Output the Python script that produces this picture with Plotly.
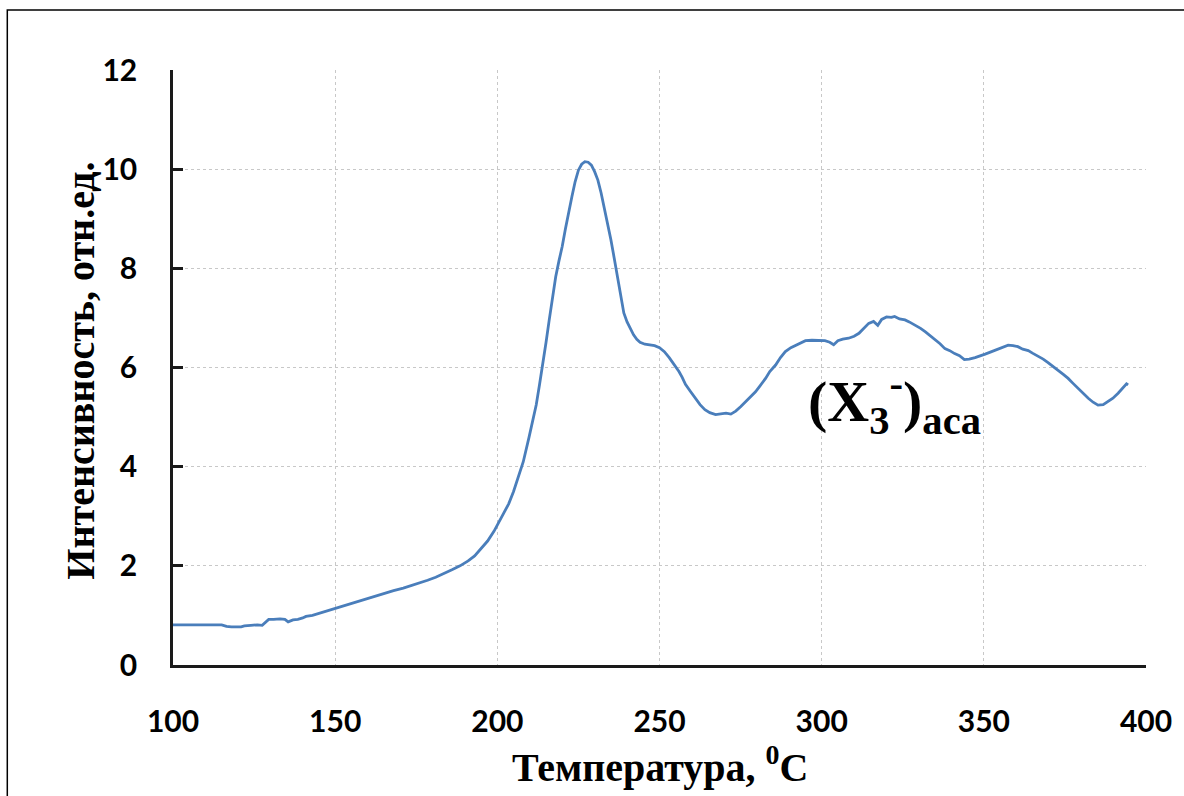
import plotly.graph_objects as go

# Temperature (°C) and intensity (arb. units) of the glow curve
temperature = [
    100, 105, 110, 115, 116.5, 118, 121, 122, 124, 126, 127.5, 128.5, 129.5, 131, 133,
    134.5, 135.5, 137, 138.5, 140, 141, 143, 145, 147.5, 150, 153, 156.5, 160, 163,
    165.7, 168, 171, 173.5, 176, 178.5, 181, 183.5, 186, 188.5, 191, 193, 195, 197,
    199, 200, 202, 203.5, 205, 206.5, 208, 209.8, 211, 212, 213, 214, 215, 216, 217,
    218, 219, 220, 221, 222, 223, 224, 225, 226, 227, 228, 229, 230, 231, 232, 233,
    234, 235, 236, 237, 238, 239, 240, 241, 242, 243, 244, 245.5, 247, 248.5, 250,
    251.5, 253, 254.5, 256, 257, 258, 259.5, 261, 262.5, 264, 265.5, 267.3, 269,
    270.5, 272, 273.5, 275, 276.5, 278, 279.6, 281, 282.7, 284, 285.8, 287.3, 288.8,
    290.5, 292, 293.5, 295, 297, 299, 301, 302.5, 303.7, 305, 306.5, 308.3, 310,
    311.5, 313, 314.5, 316, 317.3, 318.5, 320, 321.5, 322.5, 324, 325.7, 327, 328.8,
    330.5, 332, 333.5, 335, 336.5, 338, 339.5, 341, 342.5, 344, 345.5, 347.3, 349,
    350.4, 352, 353.5, 355, 356.5, 357.5, 359, 360.5, 362, 363.7, 365, 366.8, 368.3,
    369.8, 371.3, 372.9, 374.5, 376, 377.5, 379, 380.5, 382.2, 383.7, 385.2, 386.8,
    388.3, 389.8, 391.4, 392.8, 394, 394.5,
]
intensity = [
    0.81, 0.81, 0.81, 0.81, 0.78, 0.77, 0.77, 0.79, 0.80, 0.81, 0.80, 0.86, 0.92, 0.92, 0.93,
    0.92, 0.87, 0.91, 0.92, 0.95, 0.98, 1.00, 1.04, 1.09, 1.15, 1.20, 1.28, 1.34, 1.41,
    1.46, 1.50, 1.55, 1.60, 1.65, 1.71, 1.77, 1.84, 1.92, 2.00, 2.10, 2.20, 2.35, 2.50,
    2.70, 2.82, 3.05, 3.25, 3.50, 3.80, 4.10, 4.60, 4.95, 5.25, 5.65, 6.05, 6.50, 6.96, 7.40,
    7.83, 8.15, 8.44, 8.80, 9.15, 9.45, 9.75, 9.98, 10.10, 10.15, 10.14, 10.08, 9.95, 9.78, 9.52, 9.22,
    8.90, 8.58, 8.22, 7.85, 7.50, 7.10, 6.92, 6.78, 6.66, 6.57, 6.51, 6.47, 6.45, 6.44, 6.40,
    6.32, 6.20, 6.07, 5.92, 5.80, 5.66, 5.52, 5.38, 5.25, 5.15, 5.09, 5.05, 5.06,
    5.08, 5.06, 5.12, 5.21, 5.31, 5.40, 5.51, 5.63, 5.78, 5.92, 6.05, 6.20, 6.32,
    6.40, 6.45, 6.50, 6.54, 6.55, 6.54, 6.54, 6.51, 6.46, 6.54, 6.57, 6.59, 6.63,
    6.69, 6.79, 6.89, 6.93, 6.85, 6.97, 7.02, 7.01, 7.03, 6.98, 6.96, 6.92, 6.86,
    6.79, 6.72, 6.64, 6.57, 6.48, 6.38, 6.34, 6.28, 6.24, 6.16, 6.17, 6.20, 6.23,
    6.27, 6.31, 6.35, 6.38, 6.43, 6.45, 6.44, 6.42, 6.37, 6.34, 6.29, 6.23, 6.17,
    6.10, 6.03, 5.94, 5.86, 5.78, 5.68, 5.58, 5.48, 5.38, 5.30, 5.24, 5.25,
    5.31, 5.38, 5.48, 5.58, 5.67, 5.65,
]

x_ticks = [100, 150, 200, 250, 300, 350, 400]
y_ticks = [0, 2, 4, 6, 8, 10, 12]

tick_font = dict(family="Lato", size=30, color="black", weight="bold")
title_font = dict(family="Liberation Serif", size=40, color="black", weight="bold")

fig = go.Figure()
fig.add_trace(go.Scatter(
    x=temperature, y=intensity, mode="lines",
    line=dict(color="#4a7ebb", width=2.8),
    showlegend=False, hoverinfo="skip",
))

fig.update_layout(
    width=1184, height=796,
    margin=dict(l=173, r=36, t=70, b=131),
    paper_bgcolor="white", plot_bgcolor="white",
    xaxis=dict(
        range=[100, 400], tickvals=x_ticks, ticktext=[str(v) for v in x_ticks],
        showgrid=True, gridcolor="#c8c8c8", griddash="dot", gridwidth=1.2,
        showline=True, linecolor="#1a1a1a", linewidth=2.5,
        ticks="", tickfont=tick_font, ticklabelstandoff=28,
        zeroline=False, fixedrange=True,
    ),
    yaxis=dict(
        range=[0, 12], tickvals=y_ticks, ticktext=[str(v) for v in y_ticks],
        showgrid=True, gridcolor="#c8c8c8", griddash="dot", gridwidth=1.2,
        showline=True, linecolor="#1a1a1a", linewidth=2.5,
        ticks="inside", ticklen=10, tickwidth=2.5, tickcolor="#1a1a1a",
        tickfont=tick_font, ticklabelstandoff=27,
        zeroline=False, fixedrange=True,
    ),
    annotations=[
        dict(
            text="Интенсивность, отн.ед.", textangle=-90,
            xref="paper", yref="paper", x=-0.0954, y=0.495,
            xanchor="center", yanchor="middle", showarrow=False, font=title_font,
        ),
        dict(
            text="Температура, <sup>0</sup>C",
            xref="paper", yref="paper", x=0.5, y=-0.168,
            xanchor="center", yanchor="middle", showarrow=False, font=title_font,
        ),
        dict(
            text="(X<sub>3</sub><sup>-</sup>)<sub>aca</sub>",
            xref="x", yref="y", x=322.5, y=5.3,
            xanchor="center", yanchor="middle", showarrow=False,
            font=dict(family="Liberation Serif", size=58, color="black", weight="bold"),
        ),
    ],
    shapes=[
        # outer frame around the figure
        dict(type="rect", xref="paper", yref="paper",
             x0=-0.1703, x1=1.05, y0=-0.25, y1=1.1008,
             line=dict(color="black", width=1.5), fillcolor="rgba(0,0,0,0)", layer="below"),
    ],
)

fig.write_html("out.html")
